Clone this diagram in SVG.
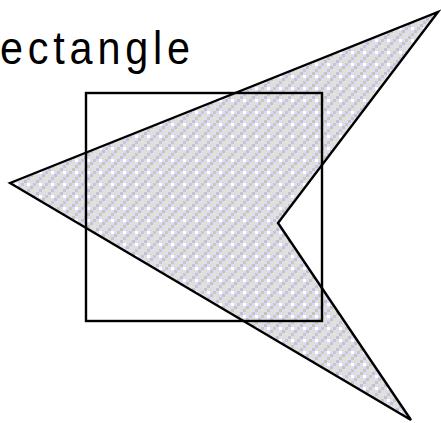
<svg xmlns="http://www.w3.org/2000/svg" width="441" height="423" viewBox="0 0 441 423">
<style>
.lbl{font-family:"Liberation Sans",Arial,sans-serif;font-size:47px;fill:#000}
.shape{stroke:#000;stroke-width:2.4;stroke-linejoin:miter}
</style>
<defs>
<pattern id="tex" width="12" height="12" patternUnits="userSpaceOnUse">
<rect width="12" height="12" fill="#dcdcf4"/>
<rect x="0" y="0" width="3" height="3" fill="#c4c4c4"/>
<rect x="6" y="0" width="3" height="3" fill="#e4e0c0"/>
<rect x="3" y="3" width="3" height="3" fill="#ffffff"/>
<rect x="9" y="3" width="3" height="3" fill="#c8c8c8"/>
<rect x="0" y="6" width="3" height="3" fill="#e4e0c0"/>
<rect x="6" y="6" width="3" height="3" fill="#c4c4c4"/>
<rect x="3" y="9" width="3" height="3" fill="#c8c8c8"/>
<rect x="9" y="9" width="3" height="3" fill="#e8e4c8"/>
</pattern>
</defs>
<rect width="441" height="423" fill="#fff"/>
<g id="label"><text class="lbl" x="0" y="64" transform="scale(0.88,1)" textLength="216" lengthAdjust="spacing">ectangle</text></g>
<g id="polygon"><polygon class="shape" points="10,183 438,12 278,223 411,420" fill="url(#tex)"/></g>
<g id="rectangle"><rect class="shape" x="86" y="93" width="236" height="228" fill="none"/></g>
</svg>
